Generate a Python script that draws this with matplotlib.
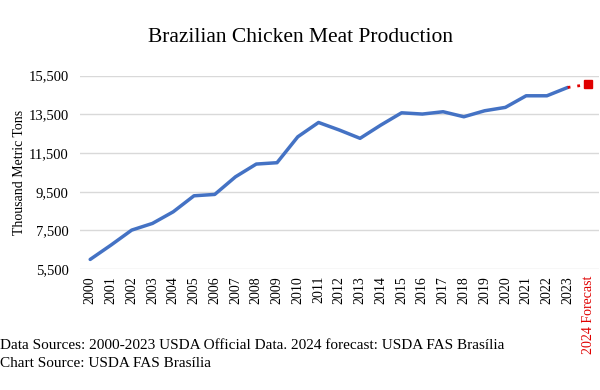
import matplotlib.pyplot as plt
from matplotlib.ticker import FuncFormatter

years = [str(y) for y in range(2000, 2024)] + ["2024 Forecast"]
production = [6000, 6740, 7516, 7862, 8462, 9290, 9360, 10272, 10930, 11000,
              12340, 13080, 12690, 12260, 12945, 13580, 13515, 13635, 13375,
              13685, 13860, 14460, 14460, 14890]
forecast = 15050

plt.rcParams['font.family'] = ['Liberation Serif', 'DejaVu Serif']

fig = plt.figure(figsize=(6, 3.9), dpi=100)
ax = fig.add_axes([0.133, 0.31, 0.865, 0.496])

x = list(range(len(production)))
ax.plot(x, production, color='#4472C4', lw=2.5, solid_capstyle='round', zorder=3)
ax.plot([x[-1], len(production)], [production[-1], forecast], color='#E00000',
        lw=2, ls=(0, (1, 2.5)), zorder=3)
ax.plot([len(production)], [forecast], marker='s', ms=6, color='#E00000', ls='none', zorder=4)

ax.set_xlim(-0.5, len(years) - 0.5)
ax.set_ylim(5500, 15500)
ax.set_yticks(range(5500, 15501, 2000))
ax.yaxis.set_major_formatter(FuncFormatter(lambda v, p: f'{int(v):,}'))
ax.set_xticks(range(len(years)))
ax.set_xticklabels(years, rotation=90, fontsize=10)
ax.get_xticklabels()[-1].set_color('#E00000')
ax.tick_params(axis='y', labelsize=10.5, length=0, pad=8)
ax.tick_params(axis='x', length=0, pad=5)
ax.grid(axis='y', color='#D9D9D9', lw=1)
ax.set_axisbelow(True)
for s in ax.spines.values():
    s.set_visible(False)

ax.set_ylabel('Thousand Metric Tons', fontsize=10, labelpad=2)
fig.text(0.5, 0.905, 'Brazilian Chicken Meat Production', ha='center', va='center', fontsize=15.5)
fig.text(0.0, 0.115, 'Data Sources: 2000-2023 USDA Official Data. 2024 forecast: USDA FAS Brasília',
         fontsize=11, va='center')
fig.text(0.0, 0.067, 'Chart Source: USDA FAS Brasília', fontsize=11, va='center')

fig.savefig('out.png', dpi=100)
